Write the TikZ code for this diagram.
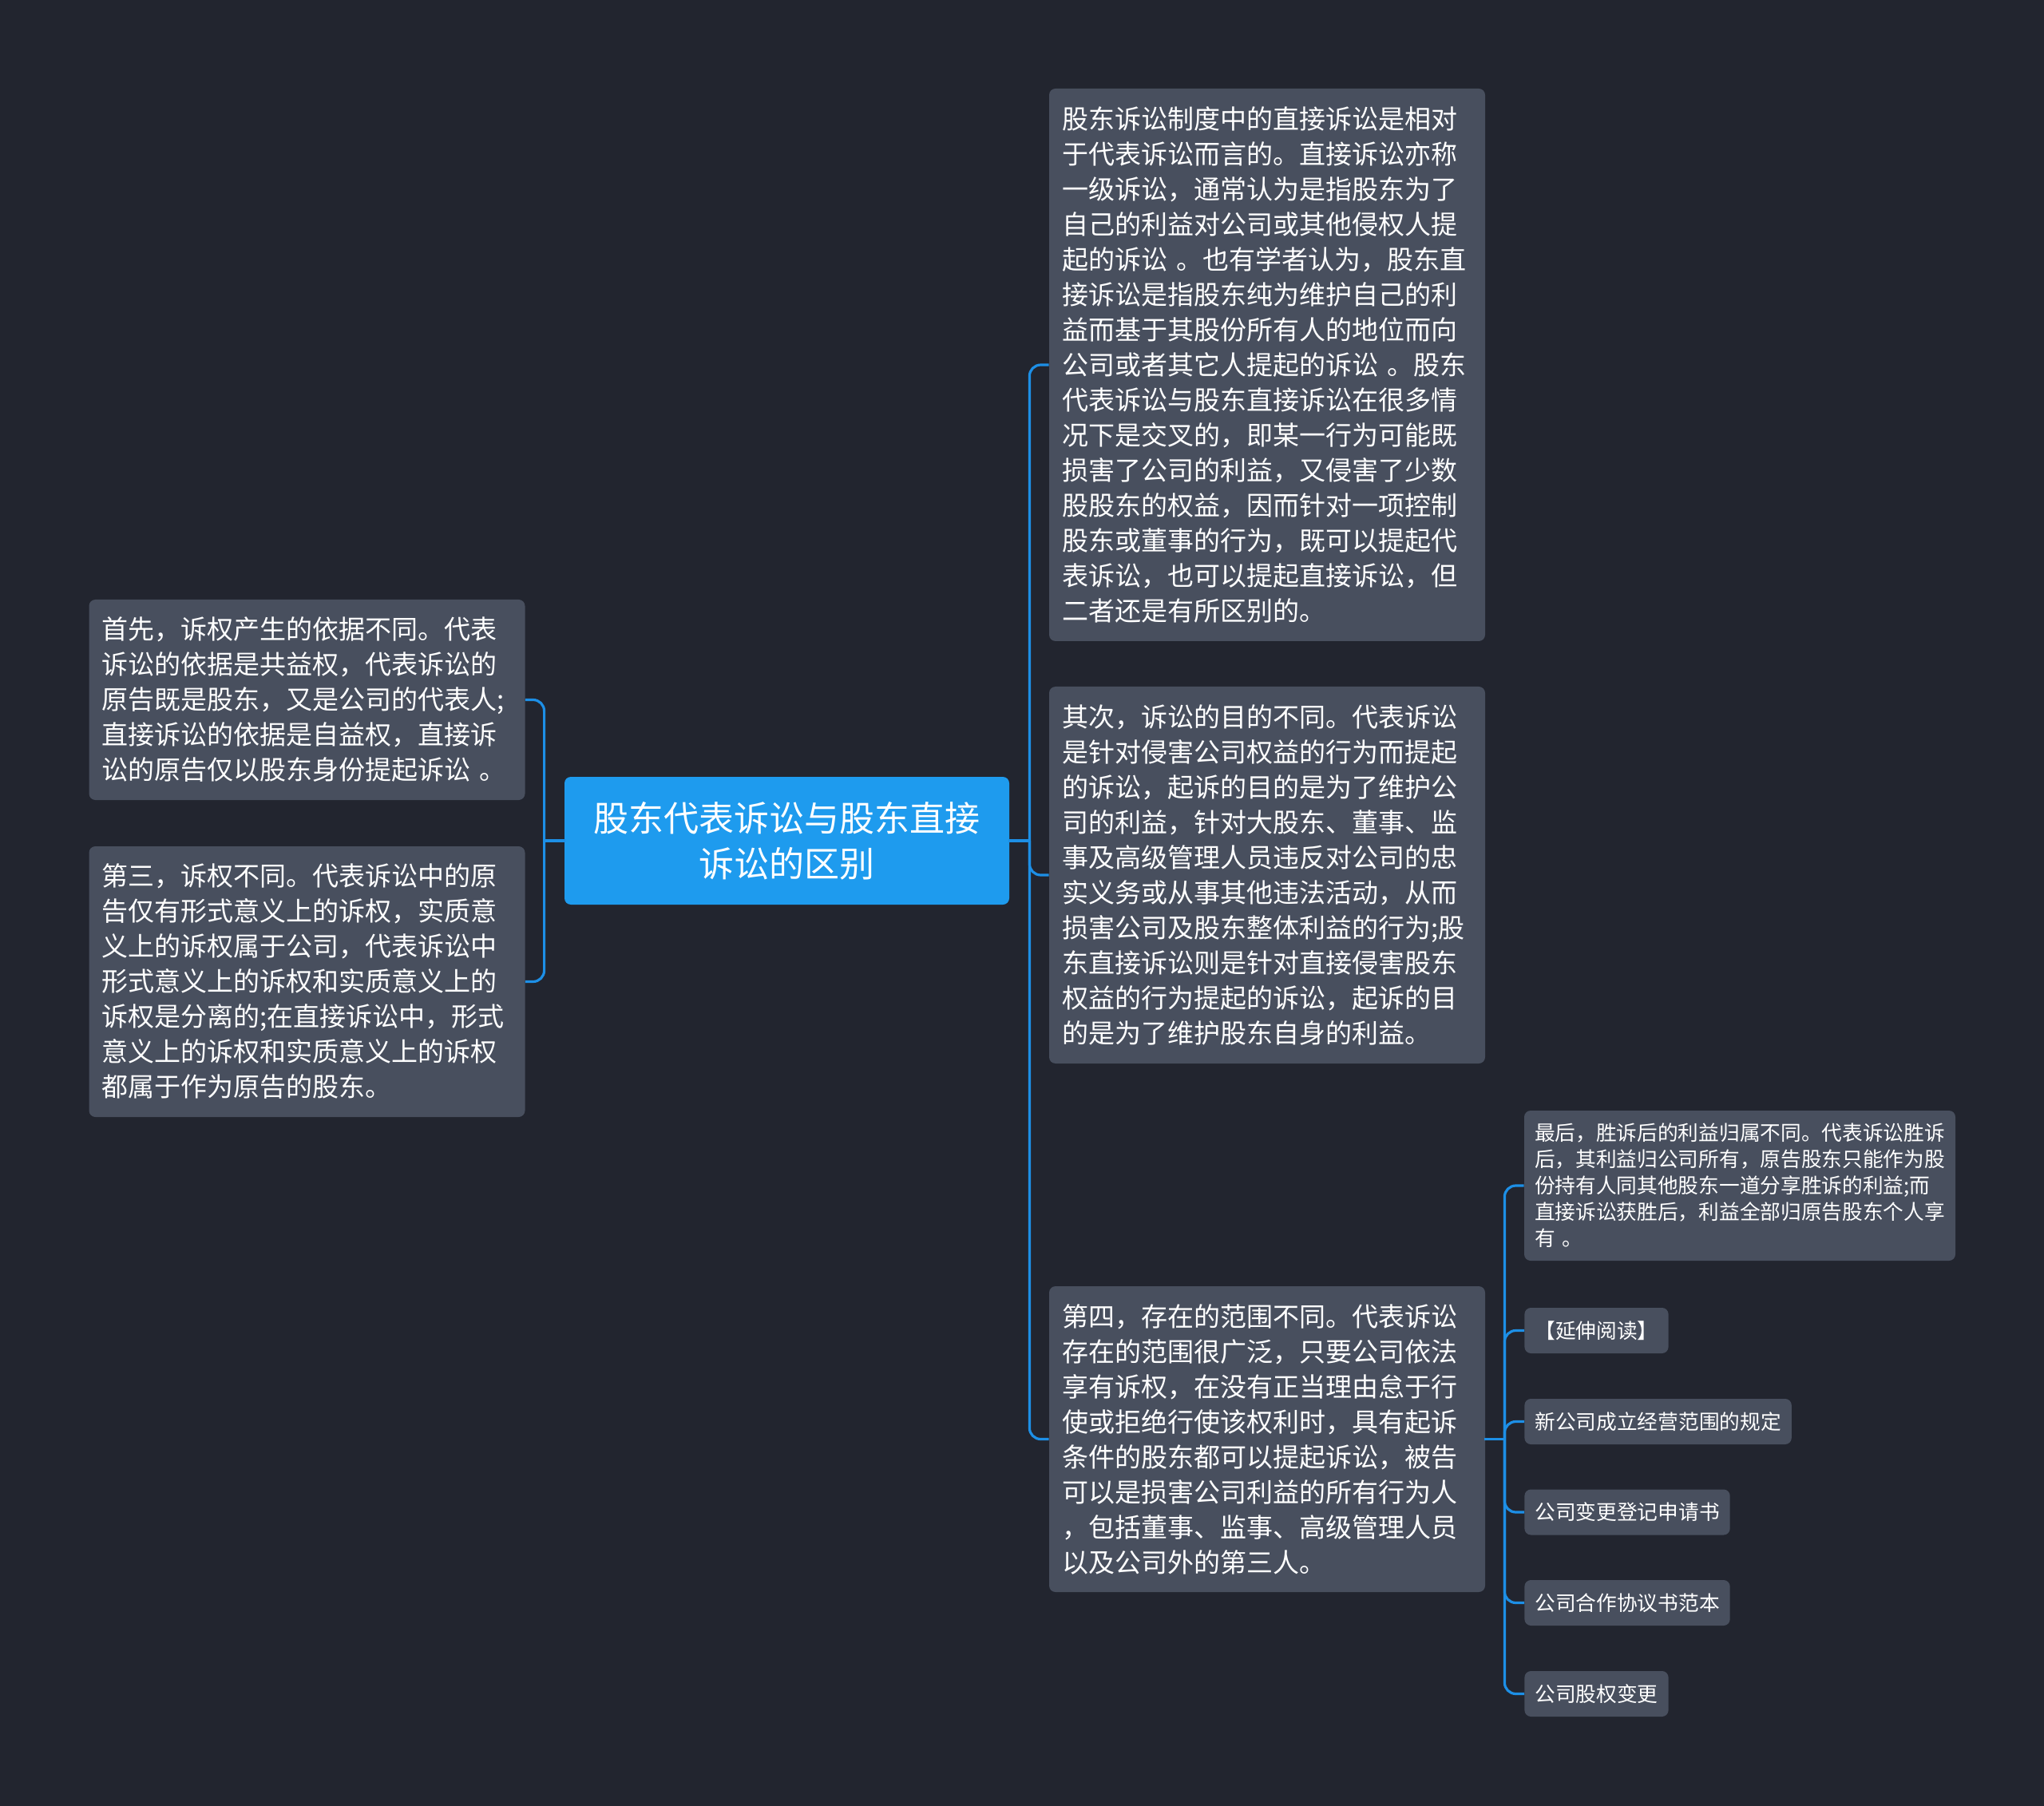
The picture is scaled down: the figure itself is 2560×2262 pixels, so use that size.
\documentclass[tikz,border=0pt]{standalone}
\usepackage{fontspec}
\setmainfont{Noto Sans CJK SC}
\definecolor{bgdark}{HTML}{22252F}
\definecolor{boxgray}{HTML}{484F5E}
\definecolor{rootblue}{HTML}{1E9BEE}
\definecolor{linkblue}{HTML}{1D8FE6}
\begin{document}
\begin{tikzpicture}[x=0.5pt,y=-0.5pt,
    topic/.style={fill=rootblue, text=white, rounded corners=4pt, align=center,
        font=\fontsize{22}{28.5}\selectfont, minimum width=278.5pt, minimum height=80pt},
    bigbox/.style={fill=boxgray, text=white, rounded corners=4pt, align=left,
        font=\fontsize{16.5}{22}\selectfont, inner xsep=8pt, inner ysep=0pt, text width=257pt},
    smallbox/.style={fill=boxgray, text=white, rounded corners=4pt, align=left,
        font=\fontsize{12.85}{16.5}\selectfont, inner xsep=6.5pt, inner ysep=0pt, minimum height=28.5pt},
    link/.style={draw=linkblue, line width=1.6pt, line cap=rect},
    branch/.style={draw=linkblue, line width=1.6pt, rounded corners=7pt}]
        \fill[bgdark] (0,0) rectangle (2560,2262);
        \node[topic] (root) at (985.5,1053) {股东代表诉讼与股东直接\\诉讼的区别};
        \node[bigbox, minimum height=346pt] (def) at (1587,457) {股东诉讼制度中的直接诉讼是相对\\
于代表诉讼而言的。直接诉讼亦称\\
一级诉讼，通常认为是指股东为了\\
自己的利益对公司或其他侵权人提\\
起的诉讼 。也有学者认为，股东直\\
接诉讼是指股东纯为维护自己的利\\
益而基于其股份所有人的地位而向\\
公司或者其它人提起的诉讼 。股东\\
代表诉讼与股东直接诉讼在很多情\\
况下是交叉的，即某一行为可能既\\
损害了公司的利益，又侵害了少数\\
股股东的权益，因而针对一项控制\\
股东或董事的行为，既可以提起代\\
表诉讼，也可以提起直接诉讼，但\\
二者还是有所区别的。};
        \node[bigbox, minimum height=236pt] (aim) at (1587,1096) {其次，诉讼的目的不同。代表诉讼\\
是针对侵害公司权益的行为而提起\\
的诉讼，起诉的目的是为了维护公\\
司的利益，针对大股东、董事、监\\
事及高级管理人员违反对公司的忠\\
实义务或从事其他违法活动，从而\\
损害公司及股东整体利益的行为;股\\
东直接诉讼则是针对直接侵害股东\\
权益的行为提起的诉讼，起诉的目\\
的是为了维护股东自身的利益。};
        \node[bigbox, minimum height=191.5pt] (scope) at (1587,1802.5) {第四，存在的范围不同。代表诉讼\\
存在的范围很广泛，只要公司依法\\
享有诉权，在没有正当理由怠于行\\
使或拒绝行使该权利时，具有起诉\\
条件的股东都可以提起诉讼，被告\\
可以是损害公司利益的所有行为人\\
，包括董事、监事、高级管理人员\\
以及公司外的第三人。};
        \node[bigbox, minimum height=125.5pt] (basis) at (384.5,876.5) {首先，诉权产生的依据不同。代表\\
诉讼的依据是共益权，代表诉讼的\\
原告既是股东，又是公司的代表人;\\
直接诉讼的依据是自益权，直接诉\\
讼的原告仅以股东身份提起诉讼 。};
        \node[bigbox, minimum height=169.5pt] (claim) at (384.5,1229.5) {第三，诉权不同。代表诉讼中的原\\
告仅有形式意义上的诉权，实质意\\
义上的诉权属于公司，代表诉讼中\\
形式意义上的诉权和实质意义上的\\
诉权是分离的;在直接诉讼中，形式\\
意义上的诉权和实质意义上的诉权\\
都属于作为原告的股东。};
        \node[smallbox, text width=257pt, minimum height=94pt] (gain) at (2179,1485) {最后，胜诉后的利益归属不同。代表诉讼胜诉\\
后，其利益归公司所有，原告股东只能作为股\\
份持有人同其他股东一道分享胜诉的利益;而\\
直接诉讼获胜后，利益全部归原告股东个人享\\
有 。};
        \node[smallbox, anchor=west] (more) at (1909,1666.5) {【延伸阅读】};
        \node[smallbox, anchor=west] (rule) at (1909,1780.5) {新公司成立经营范围的规定};
        \node[smallbox, anchor=west] (form) at (1909,1894) {公司变更登记申请书};
        \node[smallbox, anchor=west] (coop) at (1909,2007.5) {公司合作协议书范本};
        \node[smallbox, anchor=west] (equity) at (1909,2121.5) {公司股权变更};
        \draw[link] (root.east) -- ++(25,0) coordinate (rhub);
        \draw[link] (root.west) -- ++(-25,0) coordinate (lhub);
        \draw[link] (scope.east) -- ++(24,0) coordinate (shub);
        \foreach \n in {def,aim,scope}{
            \draw[branch] (rhub) |- (\n.west);
        }
        \foreach \n in {basis,claim}{
            \draw[branch] (lhub) |- (\n.east);
        }
        \foreach \n in {gain,more,rule,form,coop,equity}{
            \draw[branch] (shub) |- (\n.west);
        }
    \end{tikzpicture}
\end{document}
